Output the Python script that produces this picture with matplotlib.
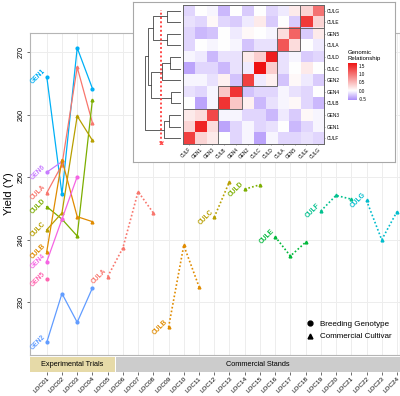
import numpy as np
import matplotlib.pyplot as plt
from matplotlib.lines import Line2D
from matplotlib.patches import Rectangle
from matplotlib.colors import LinearSegmentedColormap

plt.rcParams['font.family'] = ['Liberation Sans', 'DejaVu Sans']

locs = ["LOC01", "LOC02", "LOC03", "LOC04", "LOC05", "LOC06", "LOC07", "LOC08",
        "LOC09", "LOC10", "LOC11", "LOC12", "LOC13", "LOC14", "LOC15", "LOC16",
        "LOC17", "LOC18", "LOC19", "LOC20", "LOC21", "LOC22", "LOC23", "LOC24"]

# experimental trials, starting at LOC01
exp_names = ["GEN1", "CULA", "GEN6", "CULD", "CULC", "CULB", "GEN4", "GEN5", "GEN2"]
exp_yield = [
    [266.1, 247.3, 270.7, 264.2],
    [247.5, 252.0, 267.6, 258.7],
    [250.8, 252.5],
    [245.3, 243.3, 240.6, 262.4],
    [241.6, 244.3, 259.8, 255.9],
    [238.1, 252.8, 243.7, 242.9],
    [236.5, 243.3, 250.1],
    [233.7],
    [223.6, 231.4, 226.8, 232.3],
]

# commercial stands
com_names = ["CULA", "CULB", "CULC", "CULD", "CULE", "CULF", "CULG"]
com_start = [5, 9, 12, 14, 16, 19, 22]
com_yield = [
    [234.1, 238.7, 247.7, 244.3],
    [226.0, 239.1, 232.5],
    [243.6, 249.3],
    [248.1, 248.8],
    [240.5, 237.4, 239.6],
    [244.6, 247.1, 246.5],
    [246.3, 240.0, 244.5],
]

colors = {"CULA": "#F8766D", "CULB": "#E08B00", "CULC": "#B79F00", "CULD": "#7CAE00",
          "CULE": "#00B83A", "CULF": "#00C08D", "CULG": "#00BCCC", "GEN1": "#00B0F6",
          "GEN2": "#619CFF", "GEN4": "#F564E3", "GEN5": "#FF64B0", "GEN6": "#C77CFF"}

strip_names = ["Experimental Trials", "Commercial Stands"]
strip_colors = ["#E6DAA8", "#CCCCCC"]
n_exp_locs = 5

# genomic relationship matrix (rows top->bottom, cols left->right)
heat_rows = ["CULG", "CULE", "GEN5", "CULA", "CULD", "CULC", "GEN2", "GEN4", "CULB", "GEN3", "GEN1", "CULF"]
heat_cols = ["CULF", "GEN1", "GEN3", "CULB", "GEN4", "GEN2", "CULC", "CULD", "CULA", "GEN5", "CULE", "CULG"]
heat_vals = [
    [-0.20, 0.00, -0.05, -0.35, 0.00, -0.25, 0.00, -0.20, -0.10, 0.15, 0.30, 1.00],
    [-0.15, -0.20, 0.05, -0.20, -0.25, -0.10, 0.15, -0.25, 0.00, -0.25, 1.40, 0.30],
    [-0.20, -0.35, -0.30, 0.00, -0.10, 0.05, 0.00, -0.05, 0.25, 1.10, -0.25, 0.15],
    [-0.20, 0.00, -0.05, 0.00, -0.05, -0.30, -0.15, -0.15, 1.20, 0.25, 0.00, -0.10],
    [-0.05, -0.10, -0.35, -0.15, -0.15, 0.15, 0.35, 1.60, -0.15, -0.05, -0.25, -0.20],
    [-0.45, -0.20, -0.20, -0.35, -0.15, -0.10, 1.70, 0.35, -0.15, 0.00, 0.15, 0.00],
    [-0.05, -0.05, -0.15, 0.10, -0.30, 1.35, -0.10, 0.10, -0.30, 0.05, -0.10, -0.25],
    [-0.15, -0.20, -0.05, 0.40, 1.45, -0.30, -0.20, -0.20, -0.05, -0.15, -0.20, 0.00],
    [0.00, -0.45, -0.05, 1.45, 0.40, 0.10, -0.35, -0.15, -0.05, 0.05, -0.20, -0.35],
    [0.15, 0.25, 1.30, -0.05, -0.05, -0.20, -0.20, -0.35, -0.10, -0.25, 0.05, -0.05],
    [0.30, 1.55, 0.25, -0.45, -0.20, -0.05, -0.20, -0.15, 0.00, -0.35, -0.20, -0.05],
    [1.35, 0.30, 0.15, 0.00, -0.20, -0.05, -0.45, -0.05, -0.20, -0.20, -0.15, -0.20],
]
cluster_sizes = [3, 2, 3, 2, 2]
# dendrogram merges: (left, right, height); new nodes are m0, m1, ...
dend_merges = [("CULG", "CULE", 0.38), ("GEN5", "CULA", 0.38), ("m0", "m1", 0.78),
               ("CULD", "CULC", 0.30), ("m3", "GEN2", 0.52), ("GEN4", "CULB", 0.27),
               ("m4", "m5", 0.82), ("m2", "m6", 0.90), ("GEN3", "GEN1", 0.33),
               ("m8", "CULF", 0.48), ("m7", "m9", 1.00)]
cut_height = 0.55

fig = plt.figure(figsize=(4, 3.96), dpi=100)

# ---- main panel
ax = fig.add_axes([0.075, 0.104, 0.925, 0.813])
for name, ys in zip(exp_names, exp_yield):
    xs = np.arange(1, len(ys) + 1)
    mk = 'o' if name.startswith("GEN") else '^'
    ax.plot(xs, ys, '-', color=colors[name], lw=0.9, marker=mk, ms=2.0)
    ax.annotate(name, (xs[0], ys[0]), xytext=(-6.0, 0), textcoords='offset points',
                rotation=45, ha='center', va='center', fontsize=4.8,
                fontweight='bold', color=colors[name])
for name, s, ys in zip(com_names, com_start, com_yield):
    xs = np.arange(s, s + len(ys))
    ax.plot(xs, ys, color=colors[name], lw=1.2, ls=(0, (1, 1.3)), marker='^', ms=2.0)
    ax.annotate(name, (xs[0], ys[0]), xytext=(-6.0, 0), textcoords='offset points',
                rotation=45, ha='center', va='center', fontsize=4.8,
                fontweight='bold', color=colors[name])

xlim = (-0.1, 24.2)
ax.set_xlim(*xlim)
ax.set_ylim(221.6, 273.1)
ax.set_xticks(range(1, 25))
ax.set_xticklabels([])
ax.tick_params(axis='x', length=0)
ax.set_yticks([230, 240, 250, 260, 270])
ax.set_yticklabels(["230", "240", "250", "260", "270"], rotation=90, va='center', fontsize=5.2)
ax.tick_params(axis='y', length=2, width=0.5, color='#333333', pad=1.5)
ax.grid(color='#EDEDED', lw=0.7)
ax.set_axisbelow(True)
for sp in ax.spines.values():
    sp.set_color('#B5B5B5')
    sp.set_linewidth(0.8)
ax.set_ylabel("Yield (Y)", fontsize=8, labelpad=3)

handles = [Line2D([], [], ls='', marker='o', color='black', ms=3.5),
           Line2D([], [], ls='', marker='^', color='black', ms=3.5)]
ax.legend(handles, ["Breeding Genotype", "Commercial Cultivar"], loc='center left',
          bbox_to_anchor=(0.768, 0.1654), bbox_transform=fig.transFigure, frameon=False,
          fontsize=5.8, handlelength=0.8, handletextpad=0.75, labelspacing=0.55,
          borderpad=0, borderaxespad=0)

# ---- strips under the panel
sax = fig.add_axes([0.075, 0.0606, 0.925, 0.0379])
sax.set_xlim(*xlim)
sax.set_ylim(0, 1)
bounds = [(xlim[0], n_exp_locs + 0.45), (n_exp_locs + 0.55, xlim[1])]
for (a, b), lab, c in zip(bounds, strip_names, strip_colors):
    sax.axvspan(a, b, color=c, lw=0)
    sax.text((a + b) / 2, 0.5, lab, ha='center', va='center', fontsize=5.3)
sax.set_xticks(range(1, 25))
sax.set_xticklabels(locs, rotation=45, ha='right', rotation_mode='anchor', fontsize=4.6)
sax.tick_params(axis='x', length=2, width=0.5, color='#333333', pad=1)
sax.set_yticks([])
for sp in sax.spines.values():
    sp.set_visible(False)

# ---- inset
bg = fig.add_axes([0.3325, 0.591, 0.655, 0.404])
bg.set_xticks([])
bg.set_yticks([])
for sp in bg.spines.values():
    sp.set_color('#A8A8A8')
    sp.set_linewidth(0.8)

cmap = LinearSegmentedColormap.from_list(
    'gr', [(0, '#A888FA'), (0.6 / 2.3, '#FFFFFF'), (1, '#EE1111')])
hax = fig.add_axes([0.457, 0.636, 0.353, 0.352])
hax.imshow(np.array(heat_vals), cmap=cmap, vmin=-0.6, vmax=1.7, extent=(0, 12, 0, 12),
           aspect='auto', interpolation='nearest')
s = 0
for n in cluster_sizes:
    hax.add_patch(Rectangle((s, s), n, n, fill=False, ec='#555555', lw=0.6))
    s += n
hax.set_xlim(0, 12)
hax.set_ylim(0, 12)
hax.set_xticks(np.arange(12) + 0.5)
hax.set_xticklabels(heat_cols, rotation=45, ha='right', rotation_mode='anchor', fontsize=3.4)
hax.set_yticks(11.5 - np.arange(12))
hax.set_yticklabels(heat_rows, fontsize=3.4)
hax.yaxis.tick_right()
hax.tick_params(length=1, width=0.4, pad=1, color='#555555')
for sp in hax.spines.values():
    sp.set_color('#666666')
    sp.set_linewidth(0.7)

dax = fig.add_axes([0.36, 0.636, 0.0925, 0.352])
node_y = {n: 11.5 - i for i, n in enumerate(heat_rows)}
node_h = {n: 0.0 for n in heat_rows}
for k, (a, b, h) in enumerate(dend_merges):
    dax.plot([node_h[a], h, h, node_h[b]], [node_y[a], node_y[a], node_y[b], node_y[b]],
             color='#444444', lw=0.6)
    node_y["m%d" % k] = (node_y[a] + node_y[b]) / 2
    node_h["m%d" % k] = h
dax.plot([cut_height, cut_height], [0.1, 11.55], color='#FF4A4A', lw=1.4, ls=(0, (1, 1.2)))
dax.plot(cut_height, 0.1, marker='x', color='#FF4A4A', ms=3, mew=0.9)
dax.set_xlim(1.02, 0)
dax.set_ylim(0, 12)
dax.axis('off')

cax = fig.add_axes([0.87, 0.7475, 0.0225, 0.0934])
cb_lo, cb_hi = -0.56, 1.66
cax.imshow(np.linspace(cb_hi, cb_lo, 100)[:, None], cmap=cmap, vmin=-0.6, vmax=1.7,
           extent=(0, 1, cb_lo, cb_hi), aspect='auto')
cax.set_xticks([])
cax.set_yticks([-0.5, 0.0, 0.5, 1.0, 1.5])
cax.set_yticklabels(["-0.5", "0.0", "0.5", "1.0", "1.5"], fontsize=3.3)
cax.yaxis.tick_right()
cax.tick_params(length=0, pad=1.5)
for sp in cax.spines.values():
    sp.set_visible(False)
cax.set_title("Genomic\nRelationship", fontsize=4.3, loc='left', pad=2.5)

fig.savefig("out.png", dpi=100)
